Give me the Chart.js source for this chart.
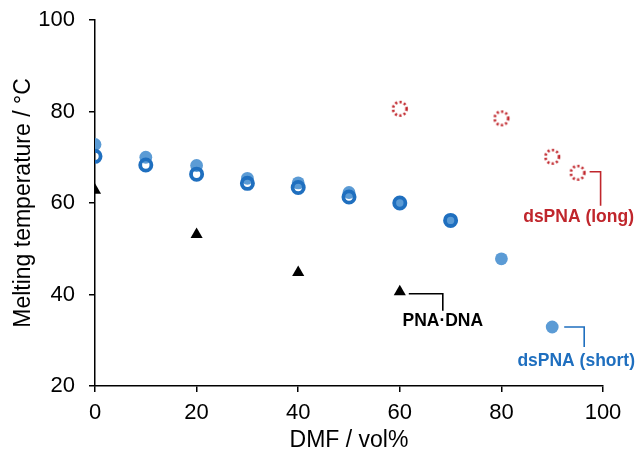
<!DOCTYPE html>
<html>
<head>
<meta charset="utf-8">
<script src="https://cdn.jsdelivr.net/npm/chart.js@4"></script>
<style>
  html, body { margin: 0; padding: 0; background: #ffffff; }
  #wrap { width: 638px; height: 454px; position: relative; }
</style>
</head>
<body>
<div id="wrap"><canvas id="c"></canvas></div>
<script>
// ---- data ----
const shortX = [0, 10, 20, 30, 40, 50, 60, 70, 80, 90];
const shortY = [72.8, 70.0, 68.2, 65.4, 64.4, 62.3, 60.0, 56.2, 47.8, 32.9];

const ringX = [0, 10, 20, 30, 40, 50, 60, 70];
const ringY = [70.2, 68.3, 66.3, 64.3, 63.4, 61.3, 60.0, 56.2];

const longX = [60, 80, 90, 95];
const longY = [80.6, 78.5, 70.1, 66.6];

const pnaX = [0, 20, 40, 60];
const pnaY = [62.8, 53.1, 44.8, 40.6];

const xTicks = [0, 20, 40, 60, 80, 100];
const yTicks = [20, 40, 60, 80, 100];

const xTitle = 'DMF / vol%';
const yTitle = 'Melting temperature / °C';

const labelPNA = 'PNA·DNA';
const labelShort = 'dsPNA (short)';
const labelLong = 'dsPNA (long)';

// ---- styles ----
const cFill = '#5B9BD5';
const cRing = '#1F6FBF';
const cRed = '#C0262C';
const FONT = "'Liberation Sans', Arial, sans-serif";

function toPts(xs, ys) { return xs.map((x, i) => ({ x: x, y: ys[i] })); }

// dotted circle marker image
const dotted = document.createElement('canvas');
dotted.width = 20; dotted.height = 20;
(function () {
  const g = dotted.getContext('2d');
  g.strokeStyle = cRed;
  g.lineWidth = 2.6;
  g.setLineDash([2.2, 2.3]);
  g.beginPath();
  g.arc(10, 10, 6.8, 0, Math.PI * 2);
  g.stroke();
})();

const annotations = [
  { ds: 3, idx: 3, text: labelPNA, color: '#000000', line: [[9, 2], [43, 2], [43, 19]], tx: 43, ty: 29 },
  { ds: 1, idx: 9, text: labelShort, color: cRing, line: [[12, 0], [32, 0], [32, 20]], tx: 24, ty: 34 },
  { ds: 2, idx: 3, text: labelLong, color: cRed, line: [[12, -1], [23, -1], [23, 33]], tx: 1, ty: 44 }
];

const annoPlugin = {
  id: 'anno',
  afterDatasetsDraw(chart) {
    const ctx = chart.ctx;
    ctx.save();
    annotations.forEach(a => {
      const el = chart.getDatasetMeta(a.ds).data[a.idx];
      const px = el.x, py = el.y;
      ctx.strokeStyle = a.color;
      ctx.lineWidth = 1.6;
      ctx.beginPath();
      a.line.forEach((p, i) => {
        if (i === 0) ctx.moveTo(px + p[0], py + p[1]);
        else ctx.lineTo(px + p[0], py + p[1]);
      });
      ctx.stroke();
      ctx.fillStyle = a.color;
      ctx.font = 'bold 17.5px ' + FONT;
      ctx.textAlign = 'center';
      ctx.textBaseline = 'middle';
      ctx.fillText(a.text, px + a.tx, py + a.ty);
    });
    ctx.restore();
  }
};

new Chart(document.getElementById('c'), {
  type: 'scatter',
  data: {
    datasets: [
      { label: 'ring', data: toPts(ringX, ringY), pointStyle: 'circle', pointRadius: 5.6, pointHoverRadius: 5.6,
        pointBorderWidth: 3.8, pointHoverBorderWidth: 3.8, pointBorderColor: cRing, pointBackgroundColor: 'rgba(0,0,0,0)', showLine: false },
      { label: labelShort, data: toPts(shortX, shortY), pointStyle: 'circle', pointRadius: 6.4, pointHoverRadius: 6.4,
        pointBorderWidth: 0, pointBackgroundColor: cFill, pointBorderColor: cFill, showLine: false },
      { label: labelLong, data: toPts(longX, longY), pointStyle: dotted, pointRadius: 7, showLine: false },
      { label: labelPNA, data: toPts(pnaX, pnaY), pointStyle: 'triangle', pointRadius: 7, pointHoverRadius: 7,
        pointBorderWidth: 0, pointBackgroundColor: '#000000', pointBorderColor: '#000000', showLine: false }
    ]
  },
  options: {
    responsive: true,
    maintainAspectRatio: false,
    animation: false,
    events: [],
    layout: { padding: { left: 0, right: 35, top: 20, bottom: 0 } },
    plugins: { legend: { display: false }, tooltip: { enabled: false } },
    scales: {
      x: {
        type: 'linear', min: 0, max: 100,
        afterBuildTicks: s => { s.ticks = xTicks.map(v => ({ value: v })); },
        afterFit: s => { s.height = 68; },
        grid: { display: true, drawOnChartArea: false, drawTicks: true, tickLength: 6, color: '#000000', lineWidth: 1.5 },
        border: { display: true, color: '#000000', width: 1.5 },
        ticks: { color: '#000000', font: { family: FONT, size: 22 }, padding: 8, maxRotation: 0 },
        title: { display: true, text: xTitle, color: '#000000', font: { family: FONT, size: 23 }, padding: { top: 0, bottom: 0 } }
      },
      y: {
        type: 'linear', min: 20, max: 100,
        afterBuildTicks: s => { s.ticks = yTicks.map(v => ({ value: v })); },
        afterFit: s => { s.width = 95; s.paddingTop = 10; s.paddingBottom = 10; },
        grid: { display: true, drawOnChartArea: false, drawTicks: true, tickLength: 6, color: '#000000', lineWidth: 1.5 },
        border: { display: true, color: '#000000', width: 1.5 },
        ticks: { color: '#000000', font: { family: FONT, size: 22 }, padding: 14 },
        title: { display: true, text: yTitle, color: '#000000', font: { family: FONT, size: 23 }, padding: { top: 10, bottom: 0 } }
      }
    }
  },
  plugins: [annoPlugin]
});
</script>
</body>
</html>
